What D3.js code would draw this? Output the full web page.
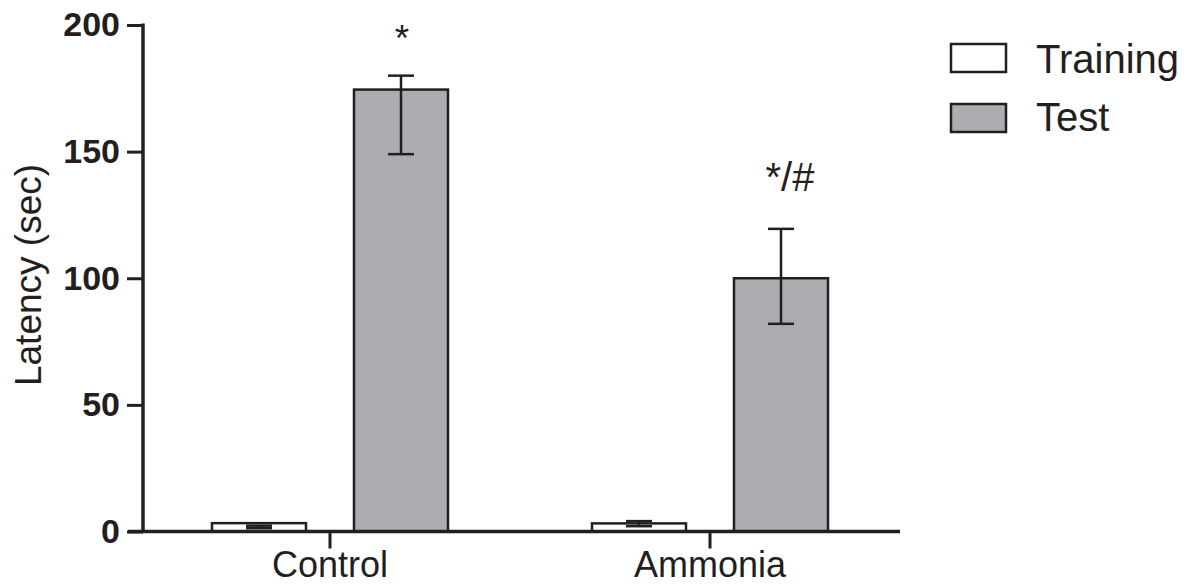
<!DOCTYPE html>
<html>
<head>
<meta charset="utf-8">
<script src="https://cdn.jsdelivr.net/npm/d3@7"></script>
<style>
  body { margin: 0; background: #fff; }
  svg { display: block; font-family: "Liberation Sans", Arial, sans-serif; }
</style>
</head>
<body>
<div id="chart"></div>
<script>
const groups = ["Control", "Ammonia"];
const series = ["Training", "Test"];
const means = [[3.3, 174.5], [3.2, 100]];
const errLow = [[1.3, 149], [2.1, 82]];
const errHigh = [[2.3, 180], [4.1, 119.5]];
const marks = ["*", "*/#"];
const yTicks = [0, 50, 100, 150, 200];

const W = 1191, H = 585;
const ink = "#231f20";
const fills = { Training: "#ffffff", Test: "#acadb1" };

const svg = d3.select("#chart").append("svg")
  .attr("width", W).attr("height", H);

const y = d3.scaleLinear().domain([0, 200]).range([531.5, 25]);
const x = d3.scaleBand().domain(groups).range([140, 900]);
const xs = d3.scaleBand().domain(series).range([0, x.bandwidth()])
  .paddingInner(0.338).paddingOuter(0.507);

// bars
groups.forEach((g, gi) => {
  const gEl = svg.append("g").attr("transform", `translate(${x(g)},0)`);
  series.forEach((s, si) => {
    const cx = xs(s) + xs.bandwidth() / 2;
    gEl.append("rect")
      .attr("x", xs(s))
      .attr("y", y(means[gi][si]))
      .attr("width", xs.bandwidth())
      .attr("height", y(0) - y(means[gi][si]))
      .attr("fill", fills[s])
      .attr("stroke", ink)
      .attr("stroke-width", 2.5);
    // error bar
    const lo = y(errLow[gi][si]), hi = y(errHigh[gi][si]);
    gEl.append("line").attr("x1", cx).attr("x2", cx).attr("y1", lo).attr("y2", hi)
      .attr("stroke", ink).attr("stroke-width", 2.5);
    [lo, hi].forEach(v => {
      gEl.append("line").attr("x1", cx - 13).attr("x2", cx + 13).attr("y1", v).attr("y2", v)
        .attr("stroke", ink).attr("stroke-width", 2.5);
    });
  });
  // significance marks above the test bar
  const tx = xs("Test") + xs.bandwidth() / 2;
  gEl.append("text")
    .attr("x", tx + (gi === 0 ? 1 : 9))
    .attr("y", gi === 0 ? 51 : 191)
    .attr("text-anchor", "middle")
    .attr("font-size", gi === 0 ? 37 : 40)
    .attr("fill", ink)
    .text(marks[gi]);
});

// y axis
const yAxis = svg.append("g")
  .attr("transform", "translate(143,0)")
  .call(d3.axisLeft(y).tickValues(yTicks).tickSize(16).tickSizeOuter(0).tickPadding(7));
yAxis.select(".domain").attr("stroke", ink).attr("stroke-width", 3.5)
  .attr("d", `M0,${y(200) - 1.5}V${y(0)}`);
yAxis.selectAll(".tick line").attr("stroke", ink).attr("stroke-width", 3);
yAxis.selectAll(".tick text")
  .attr("fill", ink).attr("font-size", 34).attr("font-weight", "bold")
  .attr("font-family", "'Liberation Sans', Arial, sans-serif");

// x axis
const xAxis = svg.append("g")
  .attr("transform", `translate(0,${y(0)})`)
  .call(d3.axisBottom(x).tickSize(17).tickSizeOuter(0).tickPadding(3));
xAxis.select(".domain").attr("stroke", ink).attr("stroke-width", 3.5)
  .attr("d", "M128,0H900");
xAxis.selectAll(".tick line").attr("stroke", ink).attr("stroke-width", 3);
xAxis.selectAll(".tick text")
  .attr("fill", ink).attr("font-size", 36)
  .attr("font-family", "'Liberation Sans', Arial, sans-serif");

// y label
svg.append("text")
  .attr("transform", "translate(41,275) rotate(-90)")
  .attr("text-anchor", "middle")
  .attr("font-size", 37)
  .attr("fill", ink)
  .text("Latency (sec)");

// legend
const legend = svg.append("g").attr("transform", "translate(951,44)");
series.forEach((s, i) => {
  legend.append("rect")
    .attr("x", 0).attr("y", i * 60)
    .attr("width", 55).attr("height", 28)
    .attr("fill", fills[s]).attr("stroke", ink).attr("stroke-width", 2.5);
  legend.append("text")
    .attr("x", 85).attr("y", i * 58 + 29)
    .attr("font-size", 40).attr("fill", ink)
    .text(s);
});
</script>
</body>
</html>
